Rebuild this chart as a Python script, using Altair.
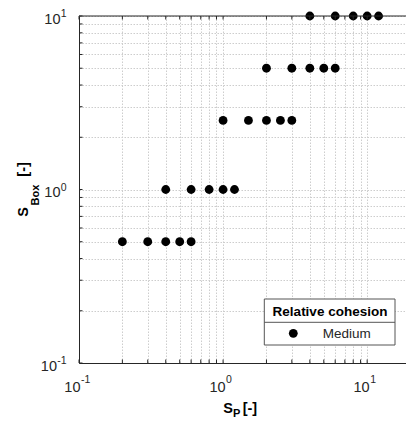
import altair as alt
import pandas as pd

# ---- data ----
sp_values = [4, 6, 8, 10, 12,
             2, 3, 4, 5, 6,
             1, 1.5, 2, 2.5, 3,
             0.4, 0.6, 0.8, 1.0, 1.2,
             0.2, 0.3, 0.4, 0.5, 0.6]
sbox_values = [10, 10, 10, 10, 10,
               5, 5, 5, 5, 5,
               2.5, 2.5, 2.5, 2.5, 2.5,
               1, 1, 1, 1, 1,
               0.5, 0.5, 0.5, 0.5, 0.5]
cohesion = ["Medium"] * len(sp_values)

x_ticks = [0.1, 0.2, 0.3, 0.4, 0.5, 0.6, 0.7, 0.8, 0.9,
           1, 2, 3, 4, 5, 6, 7, 8, 9, 10]
y_ticks = [0.1, 0.2, 0.3, 0.4, 0.5, 0.6, 0.7, 0.8, 0.9,
           1, 2, 3, 4, 5, 6, 7, 8, 9, 10]
decades = [0.1, 1, 10]
label_base = ["10", "10", "10"]
label_exp = ["-1", "0", "1"]

legend_title = "Relative cohesion"
legend_label = "Medium"

# ---- layout ----
W, H = 327, 347
FONT = "Liberation Sans"
INK = "#262626"
TL = 3.5  # tick length

pts = pd.DataFrame({"sp": sp_values, "sbox": sbox_values, "c": cohesion})
xt = pd.DataFrame({"v": x_ticks})
yt = pd.DataFrame({"v": y_ticks})
labs = pd.DataFrame({"d": decades, "base": label_base, "exp": label_exp})
one = pd.DataFrame({"a": [0]})

xs = alt.Scale(type="log", domain=[0.1, 18.6], nice=False)
ys = alt.Scale(type="log", domain=[0.1, 10], nice=False)

GRID = "#cdcdcd"
xaxis = alt.Axis(values=x_ticks, grid=True, gridColor=GRID, gridDash=[1.5, 1.5],
                 gridWidth=1, labels=False, ticks=False, domain=True,
                 domainColor=INK, domainWidth=1, title=None)
yaxis = alt.Axis(values=y_ticks, grid=True, gridColor=GRID, gridDash=[1.5, 1.5],
                 gridWidth=1, labels=False, ticks=False, domain=True,
                 domainColor=INK, domainWidth=1, title=None)

X = lambda f: alt.X(f, scale=xs, axis=xaxis)
Y = lambda f: alt.Y(f, scale=ys, axis=yaxis)

points = alt.Chart(pts).mark_circle(size=78, color="black", opacity=1).encode(
    x=X("sp:Q"), y=Y("sbox:Q"))

top_border = alt.Chart(one).mark_rule(color=INK, strokeWidth=1).encode(
    x=alt.value(0), x2=alt.value(W), y=alt.value(0))

xtick_bot = alt.Chart(xt).mark_rule(color=INK).encode(
    x=X("v:Q"), y=alt.value(H), y2=alt.value(H - TL))
xtick_top = alt.Chart(xt).mark_rule(color=INK).encode(
    x=X("v:Q"), y=alt.value(0), y2=alt.value(TL))
ytick_left = alt.Chart(yt).mark_rule(color=INK).encode(
    y=Y("v:Q"), x=alt.value(0), x2=alt.value(TL))

BF, EF = 14.5, 10.5

# tick labels (10 with superscript exponent)
def xlab(filt, base_dx, exp_dx):
    b = alt.Chart(labs).transform_filter(filt).mark_text(
        font=FONT, fontSize=BF, color=INK, align="right", baseline="alphabetic",
        dx=base_dx).encode(x=X("d:Q"), y=alt.value(H + 29), text="base:N")
    e = alt.Chart(labs).transform_filter(filt).mark_text(
        font=FONT, fontSize=EF, color=INK, align="left", baseline="alphabetic",
        dx=exp_dx).encode(x=X("d:Q"), y=alt.value(H + 19.5), text="exp:N")
    return [b, e]

def ylab(filt, base_x):
    b = alt.Chart(labs).transform_filter(filt).mark_text(
        font=FONT, fontSize=BF, color=INK, align="right", baseline="alphabetic",
        dy=7.5).encode(y=Y("d:Q"), x=alt.value(base_x), text="base:N")
    e = alt.Chart(labs).transform_filter(filt).mark_text(
        font=FONT, fontSize=EF, color=INK, align="right", baseline="alphabetic",
        dy=1).encode(y=Y("d:Q"), x=alt.value(-12.5), text="exp:N")
    return [b, e]

neg = "datum.exp == '-1'"
pos = "datum.exp != '-1'"
tick_labels = xlab(neg, 1.5, 2) + xlab(pos, 2.5, 3) + ylab(neg, -22) + ylab(pos, -18.5)

# axis titles with subscripts
def txt(s, x, y, size, angle=0, align="left"):
    return alt.Chart(one).mark_text(
        text=s, font=FONT, fontSize=size, fontWeight="bold", color="black",
        align=align, baseline="alphabetic", angle=angle).encode(
        x=alt.value(x), y=alt.value(y))

titles = [
    txt("S", 144.3, 396.7, 14.5), txt("P", 154, 400.9, 11), txt("[-]", 163.7, 396.7, 14.5),
    txt("S", -50.7, 200.7, 14.5, angle=270), txt("Box", -40.5, 189.5, 11, angle=270),
    txt("[-]", -50.7, 160.7, 14.5, angle=270),
]

# legend box
lx1, lx2, ly1, ly2, lsep = 185.3, 316, 283, 329, 306.3
leg_box = alt.Chart(one).mark_rect(fill="white", stroke="#555555", strokeWidth=1).encode(
    x=alt.value(lx1), x2=alt.value(lx2), y=alt.value(ly1), y2=alt.value(ly2))
leg_sep = alt.Chart(one).mark_rule(color="#555555", strokeWidth=1).encode(
    x=alt.value(lx1), x2=alt.value(lx2), y=alt.value(lsep))
leg_title = alt.Chart(one).mark_text(
    text=legend_title, font=FONT, fontSize=13.5, fontWeight="bold", color="black",
    align="center", baseline="alphabetic").encode(x=alt.value(251), y=alt.value(299.5))
leg_sym = alt.Chart(one).mark_circle(size=78, color="black", opacity=1).encode(
    x=alt.value(214.3), y=alt.value(317.3))
leg_lab = alt.Chart(one).mark_text(
    text=legend_label, font=FONT, fontSize=13.5, color=INK,
    align="left", baseline="alphabetic").encode(x=alt.value(243.7), y=alt.value(321.7))

chart = alt.layer(
    points, top_border, xtick_bot, xtick_top, ytick_left,
    *tick_labels, *titles,
    leg_box, leg_sep, leg_title, leg_sym, leg_lab,
).properties(
    width=W, height=H,
    autosize=alt.AutoSizeParams(type="none"),
    padding={"left": 79, "top": 16, "right": 0, "bottom": 61},
    background="white",
).configure_view(stroke=None)

chart.save("out.html", embed_options={"renderer": "svg", "actions": False})
